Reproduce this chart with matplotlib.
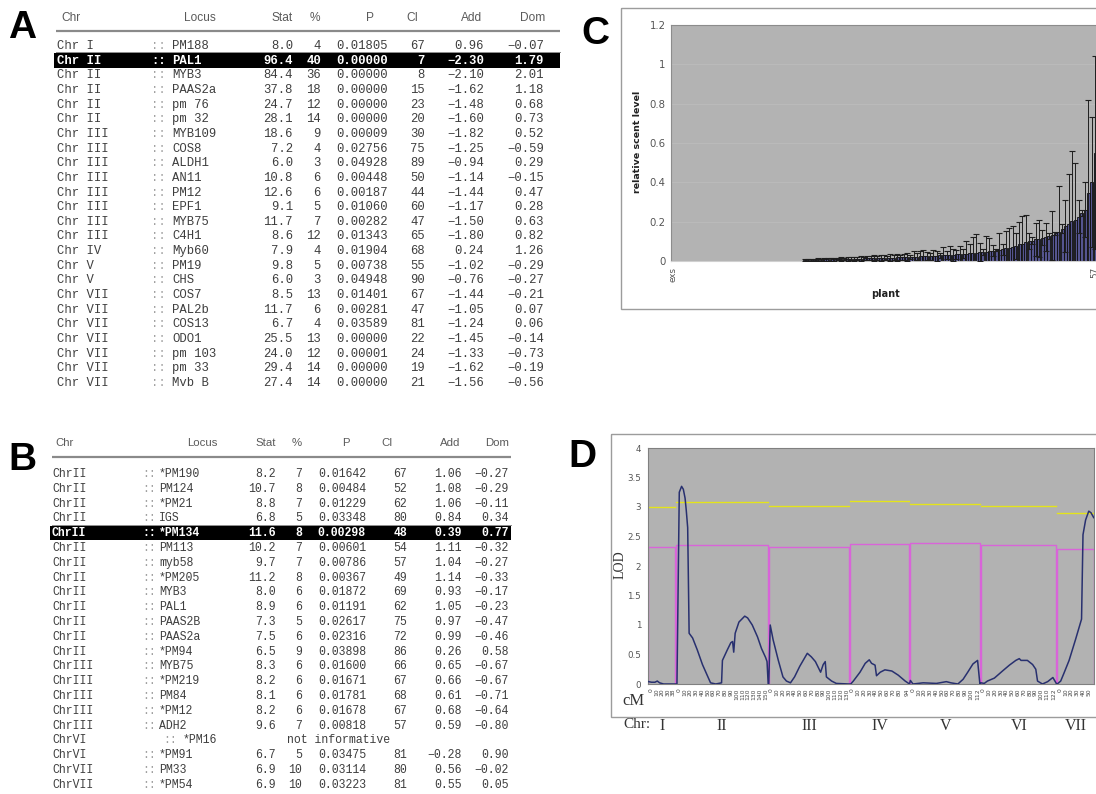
import numpy as np
import matplotlib
matplotlib.use("Agg")
import matplotlib.pyplot as plt
from matplotlib.patches import Rectangle

# ---------------- Table A data ----------------
header_labels = ["Chr", "Locus", "Stat", "%", "P", "CI", "Add", "Dom"]
A_chr = ["Chr I", "Chr II", "Chr II", "Chr II", "Chr II", "Chr II", "Chr III", "Chr III",
         "Chr III", "Chr III", "Chr III", "Chr III", "Chr III", "Chr III", "Chr IV", "Chr V",
         "Chr V", "Chr VII", "Chr VII", "Chr VII", "Chr VII", "Chr VII", "Chr VII", "Chr VII"]
A_locus = ["PM188", "PAL1", "MYB3", "PAAS2a", "pm 76", "pm 32", "MYB109", "COS8", "ALDH1",
           "AN11", "PM12", "EPF1", "MYB75", "C4H1", "Myb60", "PM19", "CHS", "COS7", "PAL2b",
           "COS13", "ODO1", "pm 103", "pm 33", "Mvb B"]
A_stat = [8.0, 96.4, 84.4, 37.8, 24.7, 28.1, 18.6, 7.2, 6.0, 10.8, 12.6, 9.1, 11.7, 8.6,
          7.9, 9.8, 6.0, 8.5, 11.7, 6.7, 25.5, 24.0, 29.4, 27.4]
A_pct = [4, 40, 36, 18, 12, 14, 9, 4, 3, 6, 6, 5, 7, 12, 4, 5, 3, 13, 6, 4, 13, 12, 14, 14]
A_p = [0.01805, 0.00000, 0.00000, 0.00000, 0.00000, 0.00000, 0.00009, 0.02756, 0.04928,
       0.00448, 0.00187, 0.01060, 0.00282, 0.01343, 0.01904, 0.00738, 0.04948, 0.01401,
       0.00281, 0.03589, 0.00000, 0.00001, 0.00000, 0.00000]
A_ci = [67, 7, 8, 15, 23, 20, 30, 75, 89, 50, 44, 60, 47, 65, 68, 55, 90, 67, 47, 81, 22, 24, 19, 21]
A_add = [0.96, -2.30, -2.10, -1.62, -1.48, -1.60, -1.82, -1.25, -0.94, -1.14, -1.44, -1.17,
         -1.50, -1.80, 0.24, -1.02, -0.76, -1.44, -1.05, -1.24, -1.45, -1.33, -1.62, -1.56]
A_dom = [-0.07, 1.79, 2.01, 1.18, 0.68, 0.73, 0.52, -0.59, 0.29, -0.15, 0.47, 0.28, 0.63,
         0.82, 1.26, -0.29, -0.27, -0.21, 0.07, 0.06, -0.14, -0.73, -0.19, -0.56]
A_highlight = 1

# ---------------- Table B data ----------------
B_chr = ["ChrII"] * 13 + ["ChrIII"] * 5 + ["ChrVI"] * 2 + ["ChrVII"] * 2
B_locus = ["*PM190", "PM124", "*PM21", "IGS", "*PM134", "PM113", "myb58", "*PM205", "MYB3",
           "PAL1", "PAAS2B", "PAAS2a", "*PM94", "MYB75", "*PM219", "PM84", "*PM12", "ADH2",
           "*PM16", "*PM91", "PM33", "*PM54"]
B_stat = [8.2, 10.7, 8.8, 6.8, 11.6, 10.2, 9.7, 11.2, 8.0, 8.9, 7.3, 7.5, 6.5, 8.3, 8.2, 8.1,
          8.2, 9.6, None, 6.7, 6.9, 6.9]
B_pct = [7, 8, 7, 5, 8, 7, 7, 8, 6, 6, 5, 6, 9, 6, 6, 6, 6, 7, None, 5, 10, 10]
B_p = [0.01642, 0.00484, 0.01229, 0.03348, 0.00298, 0.00601, 0.00786, 0.00367, 0.01872,
       0.01191, 0.02617, 0.02316, 0.03898, 0.01600, 0.01671, 0.01781, 0.01678, 0.00818,
       None, 0.03475, 0.03114, 0.03223]
B_ci = [67, 52, 62, 80, 48, 54, 57, 49, 69, 62, 75, 72, 86, 66, 67, 68, 67, 57, None, 81, 80, 81]
B_add = [1.06, 1.08, 1.06, 0.84, 0.39, 1.11, 1.04, 1.14, 0.93, 1.05, 0.97, 0.99, 0.26, 0.65,
         0.66, 0.61, 0.68, 0.59, None, -0.28, 0.56, 0.55]
B_dom = [-0.27, -0.29, -0.11, 0.34, 0.77, -0.32, -0.27, -0.33, -0.17, -0.23, -0.47, -0.46,
         0.58, -0.67, -0.67, -0.71, -0.64, -0.80, None, 0.90, -0.02, 0.05]
B_note = "not informative"
B_highlight = 4

# ---------------- Panel C data ----------------
c_values = [
    0, 0, 0, 0, 0, 0, 0, 0, 0, 0,
    0, 0, 0, 0, 0, 0, 0, 0, 0, 0,
    0, 0, 0, 0, 0, 0, 0, 0, 0, 0,
    0, 0, 0, 0, 0, 0, 0, 0, 0, 0,
    0.004, 0.005, 0.006, 0.006, 0.007, 0.007, 0.008, 0.008, 0.008, 0.009,
    0.009, 0.010, 0.010, 0.010, 0.011, 0.011, 0.012, 0.012, 0.013, 0.013,
    0.014, 0.014, 0.015, 0.015, 0.016, 0.016, 0.017, 0.017, 0.018, 0.019,
    0.019, 0.020, 0.021, 0.022, 0.022, 0.023, 0.024, 0.025, 0.025, 0.026,
    0.027, 0.028, 0.029, 0.030, 0.031, 0.032, 0.034,
    0.036, 0.037, 0.038, 0.039, 0.040, 0.042, 0.044, 0.046, 0.048, 0.050,
    0.052, 0.056, 0.058, 0.060, 0.064, 0.068, 0.072, 0.078, 0.084, 0.088,
    0.095, 0.100, 0.104, 0.110, 0.114, 0.118, 0.122, 0.126, 0.130, 0.140,
    0.150, 0.165, 0.178, 0.190, 0.205, 0.210, 0.225, 0.245, 0.260, 0.345,
    0.400, 0.550]
c_errors = [
    0, 0, 0, 0, 0, 0, 0, 0, 0, 0,
    0, 0, 0, 0, 0, 0, 0, 0, 0, 0,
    0, 0, 0, 0, 0, 0, 0, 0, 0, 0,
    0, 0, 0, 0, 0, 0, 0, 0, 0, 0,
    0.004, 0.005, 0.005, 0.006, 0.006, 0.005, 0.006, 0.007, 0.006, 0.007,
    0.006, 0.008, 0.006, 0.009, 0.007, 0.010, 0.008, 0.012, 0.009, 0.010,
    0.010, 0.014, 0.009, 0.016, 0.012, 0.010, 0.018, 0.013, 0.020, 0.012,
    0.016, 0.022, 0.012, 0.028, 0.018, 0.030, 0.031, 0.020, 0.018, 0.032,
    0.026, 0.014, 0.040, 0.020, 0.046, 0.030, 0.022,
    0.040, 0.023, 0.062, 0.046, 0.084, 0.093, 0.046, 0.014, 0.079, 0.065,
    0.028, 0.004, 0.082, 0.028, 0.088, 0.102, 0.108, 0.066, 0.112, 0.140,
    0.139, 0.040, 0.016, 0.083, 0.092, 0.038, 0.073, 0.014, 0.124, 0.010,
    0.230, 0.021, 0.132, 0.250, 0.355, 0.290, 0.085, 0.015, 0.140, 0.475,
    0.330, 0.490]
c_tick_labels = ["exs", "57"]
c_ylabel = "relative scent level"
c_xlabel = "plant"

# ---------------- Panel D data ----------------
chr_names = ["I", "II", "III", "IV", "V", "VI", "VII"]
chr_len_cm = [38, 150, 130, 94, 112, 122, 54]
cm_labels_I = [0, 10, 20, 30, 38]
cm_labels_II = [0, 10, 20, 30, 40, 50, 60, 70, 80, 90, 100, 110, 120, 130, 140, 150]
cm_labels_III = [0, 10, 20, 30, 40, 50, 60, 70, 80, 90, 100, 110, 120, 130]
cm_labels_IV = [0, 10, 20, 30, 40, 50, 60, 70, 80, 94]
cm_labels_V = [0, 10, 20, 30, 40, 50, 60, 70, 80, 90, 100, 112]
cm_labels_VI = [0, 10, 20, 30, 40, 50, 60, 70, 80, 90, 100, 110, 122]
cm_labels_VII = [0, 10, 20, 30, 40, 50]
thr_yellow = [3.00, 3.09, 3.02, 3.10, 3.05, 3.02, 2.90]
thr_pink = [2.33, 2.35, 2.33, 2.37, 2.39, 2.36, 2.29]

lod_cm_I = [-4, 1, 7, 11, 15, 22, 42]
lod_I = [0.04, 0.03, 0.03, 0.05, 0.02, 0.0, 0.0]
lod_cm_II = [-3, 1, 5, 8, 11, 13, 15.5, 18, 24, 32, 41, 50, 55, 64, 74, 75.5, 84, 90, 93, 95,
             97.5, 104, 114, 119, 127, 136, 143, 150, 152.5, 154.5]
lod_II = [0.0, 3.25, 3.35, 3.3, 3.15, 2.95, 2.65, 0.86, 0.78, 0.58, 0.33, 0.13, 0.02, 0.0,
          0.02, 0.4, 0.58, 0.7, 0.72, 0.54, 0.86, 1.05, 1.15, 1.12, 1.0, 0.8, 0.6, 0.45, 0.38, 0.0]
lod_cm_III = [-4.5, -2, 3, 12, 20, 26, 33, 40, 49, 62, 69, 76, 85, 89.5, 93, 95, 104, 112, 134]
lod_III = [0.0, 1.0, 0.75, 0.4, 0.12, 0.05, 0.02, 0.12, 0.3, 0.52, 0.46, 0.38, 0.2, 0.33,
           0.38, 0.12, 0.05, 0.01, 0.0]
lod_cm_IV = [-3, 1.5, 13, 22, 29, 33, 39, 41.5, 48, 56, 68, 79, 91, 98.5]
lod_IV = [0.0, 0.05, 0.2, 0.35, 0.41, 0.35, 0.32, 0.14, 0.2, 0.24, 0.22, 0.15, 0.05, 0.0]
lod_cm_V = [-4, 0.5, 18, 41, 58, 66, 78, 87, 95, 104, 112, 116]
lod_V = [0.06, 0.0, 0.02, 0.01, 0.04, 0.02, 0.0, 0.08, 0.2, 0.34, 0.4, 0.0]
lod_cm_VI = [-4, 1.5, 7, 19, 33, 45, 56, 62, 65, 76, 85, 90.5, 93.5, 102, 111, 120, 126.5]
lod_VI = [0.02, 0.01, 0.05, 0.1, 0.22, 0.32, 0.4, 0.43, 0.4, 0.4, 0.33, 0.25, 0.05, 0.0,
          0.04, 0.11, 0.0]
lod_cm_VII = [-4.5, 1.5, 7, 16, 27, 37.5, 40, 44.5, 50, 54, 58.5]
lod_VII = [0.0, 0.05, 0.18, 0.4, 0.75, 1.1, 2.53, 2.78, 2.93, 2.9, 2.82]

# ---------------- figure ----------------
W, H = 1096, 794
fig = plt.figure(figsize=(W / 100, H / 100), dpi=100)
ov = fig.add_axes([0, 0, 1, 1])
ov.set_xlim(0, W)
ov.set_ylim(H, 0)
ov.axis("off")

MONO = ["Liberation Mono", "DejaVu Sans Mono"]
SANS = ["Liberation Sans", "DejaVu Sans"]
SERIF = ["Liberation Serif", "DejaVu Serif"]
DJ = ["DejaVu Sans"]


def num(v, nd):
    return f"{v:.{nd}f}".replace("-", "\u2212")


def draw_table(cfg, chrs, loci, stat, pct, pval, ci, add, dom, hl_index, note=None):
    for lab, x, a in zip(header_labels, cfg["head_x"], cfg["head_ha"]):
        ov.text(x, cfg["y_head"], lab, ha=a, va="center", fontsize=cfg["hfs"], family=SANS,
                color="#5a5a5a")
    ov.plot([cfg["x0"], cfg["x1"]], [cfg["y_line"]] * 2, color="#8a8a8a", lw=1.6,
            solid_capstyle="butt")
    cx = cfg["cx"]
    for i in range(len(chrs)):
        y = cfg["y0"] + i * cfg["dy"]
        hl = i == hl_index
        col = "white" if hl else "#3e3e3e"
        ccol = "white" if hl else "#a0a0a0"
        fw = "bold" if hl else "normal"
        if hl:
            ov.add_patch(Rectangle((cfg["x0"] - 2, y - 7.2), cfg["x1"] - cfg["x0"] + 2, 14.4,
                                   facecolor="black", edgecolor="none", zorder=1))
        if i == hl_index - 1:
            ov.plot([cfg["x0"], cfg["x1"]], [y + 6.3] * 2, color="#8c8c8c", lw=0.7)
        kw = dict(family=MONO, fontsize=cfg["fs"], fontweight=fw, va="center", zorder=2)
        ov.text(cx[0], y, chrs[i], ha="left", color=col, **kw)
        if stat[i] is None:
            ov.text(cfg["note_x"][0], y, "::", ha="left", color=ccol, **kw)
            ov.text(cfg["note_x"][1], y, loci[i], ha="left", color=col, **kw)
            ov.text(cfg["note_x"][2], y, note, ha="left", color=col, **kw)
            continue
        ov.text(cx[1], y, "::", ha="left", color=ccol, **kw)
        ov.text(cx[2], y, loci[i], ha="left", color=col, **kw)
        ov.text(cx[3], y, num(stat[i], 1), ha="right", color=col, **kw)
        ov.text(cx[4], y, str(pct[i]), ha="right", color=col, **kw)
        ov.text(cx[5], y, num(pval[i], 5), ha="right", color=col, **kw)
        ov.text(cx[6], y, str(ci[i]), ha="right", color=col, **kw)
        ov.text(cx[7], y, num(add[i], 2), ha="right", color=col, **kw)
        ov.text(cx[8], y, num(dom[i], 2), ha="right", color=col, **kw)


head_ha = ["left", "center", "right", "center", "center", "center", "right", "right"]
cfgA = dict(y_head=18, y_line=31, x0=56, x1=560, y0=46, dy=14.65, fs=8.8, hfs=8.6,
            head_x=[61, 200, 293, 315, 370, 412, 482, 545], head_ha=head_ha,
            cx=[57, 151, 172, 293, 321, 388, 425, 484, 544])
cfgB = dict(y_head=443, y_line=457, x0=52, x1=511, y0=474, dy=14.8, fs=8.3, hfs=8.2,
            head_x=[55, 202, 276, 297, 346, 387, 460, 509], head_ha=head_ha,
            cx=[52, 142, 159, 276, 302, 366, 407, 462, 509], note_x=[163, 183, 287])

draw_table(cfgA, A_chr, A_locus, A_stat, A_pct, A_p, A_ci, A_add, A_dom, A_highlight)
draw_table(cfgB, B_chr, B_locus, B_stat, B_pct, B_p, B_ci, B_add, B_dom, B_highlight, B_note)

# panel letters
for lab, x, y in [("A", 8, 38), ("B", 8, 470), ("C", 581, 44), ("D", 568, 467)]:
    ov.text(x, y, lab, fontsize=28, fontweight="bold", family=SANS, va="baseline",
            ha="left", color="black")

# outer chart boxes
ov.add_patch(Rectangle((621, 8), 520, 301, fill=False, ec="#9c9c9c", lw=1.0))
ov.add_patch(Rectangle((611, 434), 520, 283, fill=False, ec="#9c9c9c", lw=1.0))

# ---------------- Panel C ----------------
n_c = len(c_values)
bar_px = 3.3
axC = fig.add_axes([671 / W, 1 - 261 / H, n_c * bar_px / W, 236 / H])
axC.set_facecolor("#b3b3b3")
xc = np.arange(n_c)
vals = np.array(c_values, dtype=float)
errs = np.array(c_errors, dtype=float)
axC.bar(xc, vals, width=0.9, color="#55558f", edgecolor="#0d0d0d", linewidth=0.6, zorder=2)
m = vals > 0
axC.errorbar(xc[m], vals[m], yerr=errs[m], fmt="none", ecolor="#1e1e1e", elinewidth=0.7,
             capsize=2.4, capthick=0.8, zorder=3)
axC.set_xlim(-0.5, n_c - 0.5)
axC.set_ylim(0, 1.2)
yt = np.round(np.arange(0, 1.21, 0.2), 1)
axC.set_yticks(yt)
axC.set_yticklabels([f"{v:g}" for v in yt], fontsize=7.3, color="#555555", family=DJ)
axC.set_xticks([0, n_c - 1])
axC.set_xticklabels(c_tick_labels, rotation=90, fontsize=6.3, color="#555555", family=DJ)
axC.tick_params(length=0, pad=4)
axC.yaxis.grid(True, color="#bcbcbc", lw=0.6)
axC.set_axisbelow(True)
for s in axC.spines.values():
    s.set_color("#8c8c8c")
    s.set_linewidth(0.8)
axC.spines["bottom"].set_color("#d0d0d0")
ov.text(637, 142, c_ylabel, rotation=90, fontsize=6.8, fontweight="bold", family=DJ,
        ha="center", va="center", color="#222222")
ov.text(885, 294, c_xlabel, fontsize=7, fontweight="bold", family=DJ, ha="center",
        va="center", color="#222222")

# ---------------- Panel D ----------------
pad = 5
starts = []
s = 0
for L in chr_len_cm:
    starts.append(s)
    s += L + 2 * pad
total = s
axD = fig.add_axes([648 / W, 1 - 684 / H, 446 / W, 236 / H])
axD.set_facecolor("#b2b2b2")
axD.set_xlim(0, total)
axD.set_ylim(0, 4)

lod_cm_all = [lod_cm_I, lod_cm_II, lod_cm_III, lod_cm_IV, lod_cm_V, lod_cm_VI, lod_cm_VII]
lod_all = [lod_I, lod_II, lod_III, lod_IV, lod_V, lod_VI, lod_VII]
cm_labels_all = [cm_labels_I, cm_labels_II, cm_labels_III, cm_labels_IV, cm_labels_V,
                 cm_labels_VI, cm_labels_VII]

xs_lod, ys_lod = [], []
tick_pos, tick_lab = [], []
for k, L in enumerate(chr_len_cm):
    st = starts[k]
    en = st + L + 2 * pad
    a, b = st + 0.8, en - 0.8
    axD.plot([a, b], [thr_yellow[k]] * 2, color="#e4e41a", lw=1.0, zorder=2)
    axD.plot([a, a, b, b], [0, thr_pink[k], thr_pink[k], 0], color="#d964d9", lw=1.0, zorder=2)
    xs_lod += [st + pad + c for c in lod_cm_all[k]]
    ys_lod += lod_all[k]
    for c in cm_labels_all[k]:
        tick_pos.append(st + pad + c)
        tick_lab.append(str(c))
    axD.text(st + (L + 2 * pad) / 2, -0.178, chr_names[k], transform=axD.get_xaxis_transform(),
             ha="center", va="center", fontsize=11.5, family=SERIF, color="#333333", clip_on=False)
axD.plot(xs_lod, ys_lod, color="#28306f", lw=1.1, zorder=3)

yd = np.arange(0, 4.01, 0.5)
axD.set_yticks(yd)
axD.set_yticklabels([f"{v:g}" for v in yd], fontsize=6.3, color="#555555", family=DJ)
axD.set_xticks(tick_pos)
axD.set_xticklabels(tick_lab, rotation=90, fontsize=4.3, color="#444444", family=DJ)
axD.tick_params(axis="x", length=0, pad=3)
axD.tick_params(axis="y", length=0, pad=5)
for sp in axD.spines.values():
    sp.set_color("#808080")
    sp.set_linewidth(0.8)

ov.text(620, 565, "LOD", rotation=90, fontsize=10, family=SERIF, ha="center", va="center",
        color="#333333")
ov.text(633, 701, "cM", fontsize=12, family=SERIF, ha="center", va="center", color="#333333")
ov.text(623, 724, "Chr:", fontsize=11, family=SERIF, ha="left", va="center", color="#333333")

fig.savefig("out.png", dpi=100)
